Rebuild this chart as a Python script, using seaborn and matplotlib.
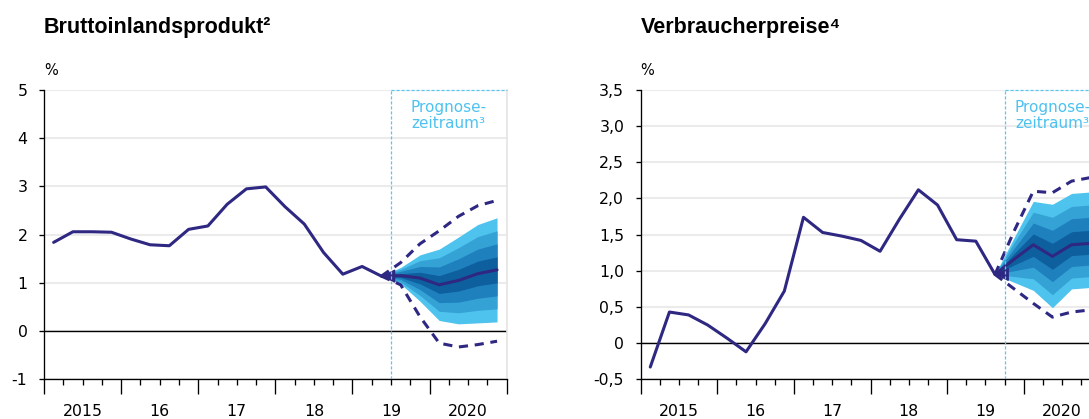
import numpy as np
import pandas as pd
import matplotlib
matplotlib.use("Agg")
import matplotlib.pyplot as plt
import seaborn as sns

# ---------------- data ----------------
year_labels = ["2015", "16", "17", "18", "19", "2020"]
year_range = (2015, 2021)

# Bruttoinlandsprodukt (GDP), quarterly, %
gdp_title = "Bruttoinlandsprodukt\u00b2"
gdp_hist_periods = ("2015Q1", "2019Q2")
gdp_hist = [1.84, 2.06, 2.06, 2.05, 1.91, 1.79, 1.77, 2.11, 2.18, 2.63,
            2.95, 2.99, 2.58, 2.22, 1.63, 1.18, 1.34, 1.14]
gdp_fc_periods = ("2019Q2", "2020Q4")
gdp_forecast_from = "2019Q3"
gdp_median = [1.14, 1.15, 1.10, 0.96, 1.05, 1.19, 1.27]
gdp_u90 = [1.14, 1.32, 1.58, 1.70, 1.95, 2.21, 2.35]
gdp_u75 = [1.14, 1.28, 1.46, 1.52, 1.73, 1.96, 2.08]
gdp_u50 = [1.14, 1.24, 1.34, 1.33, 1.50, 1.70, 1.81]
gdp_u25 = [1.14, 1.19, 1.22, 1.15, 1.28, 1.45, 1.54]
gdp_l25 = [1.14, 1.11, 0.98, 0.78, 0.83, 0.94, 1.00]
gdp_l50 = [1.14, 1.07, 0.86, 0.59, 0.60, 0.68, 0.73]
gdp_l75 = [1.14, 1.02, 0.74, 0.41, 0.38, 0.43, 0.46]
gdp_l90 = [1.14, 0.98, 0.62, 0.22, 0.15, 0.17, 0.19]
gdp_upper_bound = [1.14, 1.42, 1.81, 2.08, 2.38, 2.60, 2.71]
gdp_lower_bound = [1.14, 0.96, 0.30, -0.25, -0.33, -0.28, -0.21]
gdp_yticks = [-1, 0, 1, 2, 3, 4, 5]
gdp_yticklabels = ["-1", "0", "1", "2", "3", "4", "5"]

# Verbraucherpreise (CPI), quarterly, %
cpi_title = "Verbraucherpreise\u2074"
cpi_hist_periods = ("2015Q1", "2019Q3")
cpi_hist = [-0.33, 0.43, 0.39, 0.25, 0.07, -0.12, 0.27, 0.72, 1.74, 1.53,
            1.48, 1.42, 1.27, 1.71, 2.12, 1.91, 1.43, 1.41, 0.95]
cpi_fc_periods = ("2019Q3", "2020Q4")
cpi_forecast_from = "2019Q4"
cpi_median = [0.95, 1.16, 1.36, 1.20, 1.36, 1.38]
cpi_u90 = [0.95, 1.46, 1.96, 1.92, 2.07, 2.09]
cpi_u75 = [0.95, 1.39, 1.81, 1.74, 1.89, 1.91]
cpi_u50 = [0.95, 1.31, 1.66, 1.56, 1.72, 1.74]
cpi_u25 = [0.95, 1.24, 1.51, 1.38, 1.54, 1.56]
cpi_l25 = [0.95, 1.08, 1.20, 1.02, 1.21, 1.23]
cpi_l50 = [0.95, 1.00, 1.05, 0.85, 1.06, 1.08]
cpi_l75 = [0.95, 0.92, 0.89, 0.67, 0.90, 0.92]
cpi_l90 = [0.95, 0.84, 0.73, 0.49, 0.75, 0.77]
cpi_upper_bound = [0.95, 1.55, 2.10, 2.08, 2.24, 2.29]
cpi_lower_bound = [0.95, 0.75, 0.55, 0.36, 0.43, 0.46]
cpi_yticks = [-0.5, 0, 0.5, 1.0, 1.5, 2.0, 2.5, 3.0, 3.5]
cpi_yticklabels = ["-0,5", "0", "0,5", "1,0", "1,5", "2,0", "2,5", "3,0", "3,5"]

forecast_label = "Prognose-\nzeitraum\u00b3"

# ---------------- style ----------------
LINE = "#2E2882"
BAND_COLORS = ["#4EC3EE", "#35A2D6", "#1F80BE", "#0D5F9E"]
FC_BLUE = "#5BC6F0"
GRID = "#EBEBEB"

sns.set_theme(style="white")
plt.rcParams["font.family"] = ["DejaVu Sans"]
plt.rcParams["axes.linewidth"] = 0.95


def quarter_centers(start, end):
    per = pd.period_range(start, end, freq="Q")
    return np.array([p.year + (p.quarter - 1) / 4 + 0.125 for p in per])


def quarter_start(q):
    p = pd.Period(q, freq="Q")
    return p.year + (p.quarter - 1) / 4


def draw_panel(ax, title, hist_periods, hist, fc_periods, forecast_from, median,
               bands, upper_b, lower_b, yticks, yticklabels):
    xh = quarter_centers(*hist_periods)
    xf = quarter_centers(*fc_periods)
    fc0 = quarter_start(forecast_from)
    ymin, ymax = yticks[0], yticks[-1]

    ax.set_xlim(*year_range)
    ax.set_ylim(ymin, ymax)

    # grid
    ax.set_yticks(yticks)
    ax.set_yticklabels(yticklabels)
    ax.yaxis.grid(True, color=GRID, lw=1.5)
    ax.xaxis.grid(False)
    ax.set_axisbelow(True)
    ax.axhline(0, color="black", lw=1.0, zorder=2)

    # fan chart
    for (lo, hi), col in zip(bands, BAND_COLORS):
        ax.fill_between(xf, lo, hi, color=col, lw=0, zorder=3)

    sns.lineplot(x=xf, y=upper_b, ax=ax, color=LINE, lw=2.2,
                 linestyle=(0, (3, 2.2)), zorder=4)
    sns.lineplot(x=xf, y=lower_b, ax=ax, color=LINE, lw=2.2,
                 linestyle=(0, (3, 2.2)), zorder=4)
    sns.lineplot(x=xf, y=median, ax=ax, color=LINE, lw=2.2, zorder=5)
    sns.lineplot(x=xh, y=hist, ax=ax, color=LINE, lw=2.2, zorder=5)
    ax.annotate("", xy=(xh[-1], hist[-1]), xytext=(xh[-1] + 0.09, hist[-1]),
                arrowprops=dict(arrowstyle="-|>,head_length=0.6,head_width=0.3",
                                color=LINE, lw=1.0, shrinkA=0, shrinkB=0,
                                mutation_scale=14), zorder=6)

    # forecast period frame
    ax.axvline(fc0, color=FC_BLUE, lw=0.9, ls=(0, (2.5, 1.5)), zorder=6)
    ax.hlines(ymax, fc0, year_range[1], color=FC_BLUE, lw=0.9,
              ls=(0, (2.5, 1.5)), zorder=6, clip_on=False)
    ax.text((fc0 + year_range[1]) / 2, ymax - (ymax - ymin) * 0.035,
            forecast_label, ha="center", va="top", color="#4DC2F0",
            fontsize=11, linespacing=1.05, zorder=7)

    # spines
    ax.spines["top"].set_visible(False)
    ax.spines["right"].set_color("#E4E4E4")
    ax.spines["right"].set_linewidth(1.2)
    ax.spines["left"].set_color("black")
    ax.spines["bottom"].set_color("black")

    # x ticks: long ticks at year boundaries, short ticks at quarters,
    # labels centred in the year
    years = np.arange(year_range[0], year_range[1] + 1)
    ax.set_xticks(years)
    ax.set_xticklabels([""] * len(years))
    minor_pos, minor_lab = [], []
    for i, y in enumerate(years[:-1]):
        for k, frac in enumerate([0.25, 0.5, 0.75]):
            minor_pos.append(y + frac)
            minor_lab.append(year_labels[i] if k == 1 else "")
    ax.set_xticks(minor_pos, minor=True)
    ax.set_xticklabels(minor_lab, minor=True)
    ax.tick_params(axis="x", which="major", length=10.8, width=0.95,
                   direction="out", bottom=True, color="black")
    ax.tick_params(axis="x", which="minor", length=4.5, width=0.95,
                   direction="out", bottom=True, color="black",
                   labelsize=11.3, pad=13, labelcolor="black")
    ax.tick_params(axis="y", which="major", length=3.4, width=0.95,
                   direction="out", left=True, color="black",
                   labelsize=11.3, pad=8.5, labelcolor="black")
    ax.set_xlabel("")
    ax.set_ylabel("")

    ax.text(0, 1.066, "%", transform=ax.transAxes, ha="left", va="center",
            fontsize=10.5, color="black")
    ax.figure.text(ax.get_position().x0, 1 - 28 / 419, title,
                   ha="left", va="center", fontsize=15.5, fontweight="bold",
                   family=["Liberation Sans", "DejaVu Sans"], color="black")


W, H = 1089, 419
fig = plt.figure(figsize=(W / 100, H / 100), dpi=100)
bottom = (H - 379.3) / H
height = (379.3 - 90) / H
axL = fig.add_axes([44 / W, bottom, 462.7 / W, height])
axR = fig.add_axes([640.7 / W, bottom, 459.6 / W, height])

draw_panel(axL, gdp_title, gdp_hist_periods, gdp_hist, gdp_fc_periods,
           gdp_forecast_from, gdp_median,
           [(gdp_l90, gdp_u90), (gdp_l75, gdp_u75), (gdp_l50, gdp_u50),
            (gdp_l25, gdp_u25)],
           gdp_upper_bound, gdp_lower_bound, gdp_yticks, gdp_yticklabels)
draw_panel(axR, cpi_title, cpi_hist_periods, cpi_hist, cpi_fc_periods,
           cpi_forecast_from, cpi_median,
           [(cpi_l90, cpi_u90), (cpi_l75, cpi_u75), (cpi_l50, cpi_u50),
            (cpi_l25, cpi_u25)],
           cpi_upper_bound, cpi_lower_bound, cpi_yticks, cpi_yticklabels)

fig.savefig("out.png", dpi=100)
